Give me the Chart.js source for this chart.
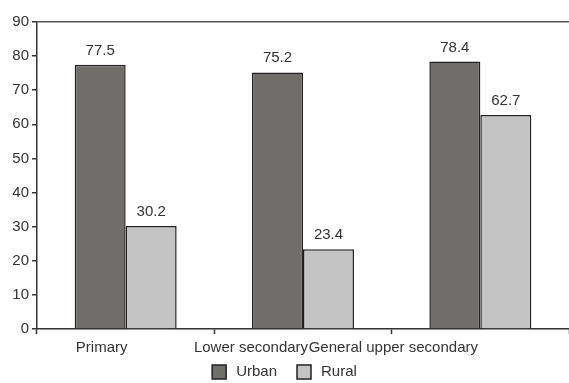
<!DOCTYPE html>
<html>
<head>
<meta charset="utf-8">
<script src="https://cdn.jsdelivr.net/npm/chart.js@4/dist/chart.umd.min.js"></script>
<style>
  html, body { margin: 0; padding: 0; background: #fff; }
  #wrap { width: 569px; height: 383px; position: relative; }
</style>
</head>
<body>
<div id="wrap"><canvas id="c"></canvas></div>
<script>
// Enrolment shares by level of education, urban vs rural
const categories = ['Primary', 'Lower secondary', 'General upper secondary'];
const urban = [77.5, 75.2, 78.4];
const rural = [30.2, 23.4, 62.7];
const yTicks = [0, 10, 20, 30, 40, 50, 60, 70, 80, 90];

const FONT = '"Liberation Sans", Arial, sans-serif';
const TEXT = '#333333';
const URBAN_COLOR = '#706e6b';
const RURAL_COLOR = '#c4c4c4';

// Value labels above each bar
const valueLabels = {
  id: 'valueLabels',
  afterDatasetsDraw(chart) {
    const ctx = chart.ctx;
    ctx.save();
    ctx.font = '15px ' + FONT;
    ctx.fillStyle = TEXT;
    ctx.textAlign = 'center';
    ctx.textBaseline = 'alphabetic';
    chart.data.datasets.forEach((ds, di) => {
      chart.getDatasetMeta(di).data.forEach((bar, i) => {
        ctx.fillText(ds.data[i].toFixed(1), bar.x, bar.y - 10);
      });
    });
    ctx.restore();
  }
};

// Category labels under the axis, set slightly left of each group
const categoryLabels = {
  id: 'categoryLabels',
  afterDraw(chart, args, opts) {
    const ctx = chart.ctx;
    const x = chart.scales.x;
    ctx.save();
    ctx.font = '15px ' + FONT;
    ctx.fillStyle = TEXT;
    ctx.textAlign = 'center';
    ctx.textBaseline = 'middle';
    categories.forEach((c, i) => {
      ctx.fillText(c, x.getPixelForValue(i) + opts.shift[i], x.top + opts.gap);
    });
    ctx.restore();
  }
};

// Simple legend row centred under the plot
const legendRow = {
  id: 'legendRow',
  afterDraw(chart, args, opts) {
    const ctx = chart.ctx;
    ctx.save();
    ctx.font = '15px ' + FONT;
    ctx.textBaseline = 'middle';
    ctx.textAlign = 'left';
    const box = 14, gap = 10, itemGap = 20;
    const items = chart.data.datasets.map(d => ({ text: d.label, color: d.backgroundColor }));
    const widths = items.map(it => box + gap + ctx.measureText(it.text).width);
    const total = widths.reduce((a, b) => a + b, 0) + itemGap * (items.length - 1);
    let x = chart.width / 2 - total / 2;
    const cy = opts.y;
    items.forEach((it, i) => {
      ctx.fillStyle = it.color;
      ctx.fillRect(x, cy - box / 2, box, box);
      ctx.strokeStyle = '#222';
      ctx.lineWidth = 1.5;
      ctx.strokeRect(x, cy - box / 2, box, box);
      ctx.fillStyle = TEXT;
      ctx.fillText(it.text, x + box + gap, cy);
      x += widths[i] + itemGap;
    });
    ctx.restore();
  }
};

new Chart(document.getElementById('c'), {
  type: 'bar',
  data: {
    labels: categories,
    datasets: [
      { label: 'Urban', data: urban, backgroundColor: URBAN_COLOR, borderColor: '#222', borderWidth: 1.5 },
      { label: 'Rural', data: rural, backgroundColor: RURAL_COLOR, borderColor: '#222', borderWidth: 1.5 }
    ]
  },
  options: {
    responsive: true,
    maintainAspectRatio: false,
    animation: false,
    layout: { padding: { top: 22, right: 0, left: 0, bottom: 24 } },
    datasets: { bar: { categoryPercentage: 0.575, barPercentage: 1.0 } },
    scales: {
      x: {
        grid: { drawOnChartArea: false, tickColor: '#333', tickLength: 5, tickWidth: 1.5 },
        border: { color: '#333', width: 1.5 },
        ticks: { display: false },
        afterFit(s) { s.height = 30; }
      },
      y: {
        min: 0, max: 90,
        afterBuildTicks(s) { s.ticks = yTicks.map(v => ({ value: v })); },
        grid: {
          color: c => (c.tick && c.tick.value === 90) ? '#555' : 'rgba(0,0,0,0)',
          lineWidth: 1.5,
          tickColor: '#333', tickLength: 5, tickWidth: 1.5
        },
        border: { color: '#333', width: 1.5 },
        ticks: { color: TEXT, font: { family: FONT, size: 15 }, padding: 3 },
        afterFit(s) { s.width = 37; }
      }
    },
    plugins: {
      legend: { display: false },
      tooltip: { enabled: false },
      categoryLabels: { shift: [-24, -52, -87], gap: 19 },
      legendRow: { y: 372 }
    }
  },
  plugins: [valueLabels, categoryLabels, legendRow]
});
</script>
</body>
</html>
